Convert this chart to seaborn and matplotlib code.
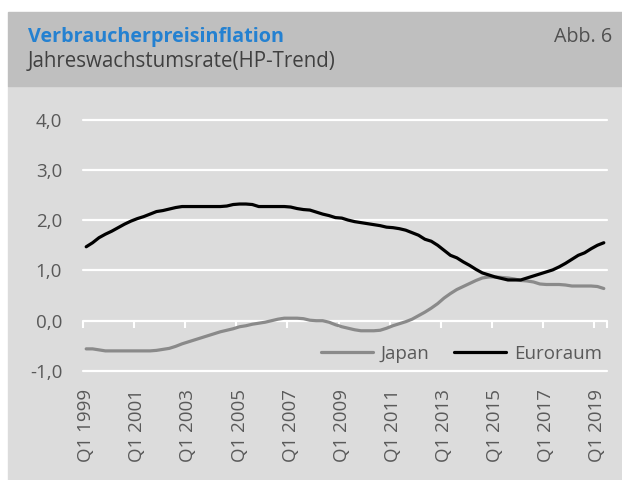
import pandas as pd
import numpy as np
from matplotlib import pyplot as plt
from matplotlib.patches import Rectangle
import seaborn as sns

# quarterly values Q1 1999 .. Q2 2019
quarters = [f"Q{q} {y}" for y in range(1999, 2020) for q in range(1, 5)][:82]

euroraum = [1.47, 1.55, 1.65, 1.72, 1.78, 1.85, 1.92, 1.98, 2.03, 2.07,
            2.12, 2.17, 2.19, 2.22, 2.25, 2.27, 2.27, 2.27, 2.27, 2.27,
            2.27, 2.27, 2.28, 2.31, 2.32, 2.32, 2.31, 2.27, 2.27, 2.27,
            2.27, 2.27, 2.26, 2.23, 2.21, 2.20, 2.16, 2.12, 2.09, 2.05,
            2.04, 2.00, 1.97, 1.95, 1.93, 1.91, 1.89, 1.86, 1.85, 1.83,
            1.80, 1.75, 1.70, 1.62, 1.58, 1.50, 1.40, 1.30, 1.25, 1.17,
            1.10, 1.02, 0.95, 0.91, 0.87, 0.84, 0.81, 0.81, 0.81, 0.85,
            0.89, 0.93, 0.97, 1.01, 1.07, 1.14, 1.22, 1.30, 1.35, 1.43,
            1.50, 1.55]

japan = [-0.56, -0.56, -0.58, -0.60, -0.60, -0.60, -0.60, -0.60, -0.60, -0.60,
         -0.60, -0.59, -0.57, -0.55, -0.51, -0.46, -0.42, -0.38, -0.34, -0.30,
         -0.26, -0.22, -0.19, -0.16, -0.12, -0.10, -0.07, -0.05, -0.03, 0.00,
         0.03, 0.05, 0.05, 0.05, 0.04, 0.01, 0.00, 0.00, -0.03, -0.08,
         -0.12, -0.15, -0.18, -0.20, -0.20, -0.20, -0.19, -0.15, -0.10, -0.06,
         -0.02, 0.03, 0.10, 0.17, 0.25, 0.34, 0.45, 0.54, 0.62, 0.68,
         0.74, 0.80, 0.85, 0.87, 0.87, 0.86, 0.85, 0.83, 0.80, 0.79,
         0.77, 0.73, 0.72, 0.72, 0.72, 0.71, 0.69, 0.69, 0.69, 0.69,
         0.68, 0.64]

y_ticks = [-1, 0, 1, 2, 3, 4]
label_every = 8

df = pd.DataFrame({"Quartal": quarters, "Japan": japan, "Euroraum": euroraum})
long = df.melt(id_vars="Quartal", var_name="Region", value_name="Wert")
long["pos"] = long["Quartal"].map({q: i for i, q in enumerate(quarters)})

sns.set_theme(style="white")
plt.rcParams["font.family"] = ["Open Sans", "DejaVu Sans"]

fig = plt.figure(figsize=(6.22, 4.8), dpi=100)
fig.patch.set_facecolor("white")
# panels behind everything
fig.patches.append(Rectangle((8 / 622, 0), 1, 394 / 480, transform=fig.transFigure,
                             color="#dcdcdc", zorder=-10))
fig.patches.append(Rectangle((8 / 622, 394 / 480), 1, 74 / 480, transform=fig.transFigure,
                             color="#bfbfbf", zorder=-10))

fig.text(28 / 622, 1 - 42 / 480, "Verbraucherpreisinflation", color="#2481d1",
         fontsize=14.2, fontweight="bold", va="baseline", ha="left")
fig.text(28 / 622, 1 - 67 / 480, "Jahreswachstumsrate(HP-Trend)", color="#404040",
         fontsize=14.8, va="baseline", ha="left")
fig.text(612 / 622, 1 - 42 / 480, "Abb. 6", color="#505050",
         fontsize=14.2, va="baseline", ha="right")

# 50.3 px per unit, range -1 .. 4.1
ax = fig.add_axes([83 / 622, 109 / 480, 524 / 622, 256.5 / 480])
ax.set_facecolor("none")

sns.lineplot(data=long, x="pos", y="Wert", hue="Region",
             palette={"Japan": "#8a8a8a", "Euroraum": "black"},
             linewidth=2.3, ax=ax)

ax.set_ylim(-1, 4.1)
ax.set_xlim(-0.5, len(quarters) - 0.5)
ax.set_yticks(y_ticks)
ax.set_yticklabels([f"{v:.1f}".replace(".", ",") for v in y_ticks])
ax.yaxis.grid(True, color="white", linewidth=1.6)
ax.set_axisbelow(True)
for gl in ax.yaxis.get_gridlines():
    gl.set_clip_on(False)
for s in ax.spines.values():
    s.set_visible(False)

pos = list(range(0, len(quarters), label_every))
ax.set_xticks(pos)
ax.set_xticklabels([quarters[p] for p in pos], rotation=90, va="top", ha="center")
ax.tick_params(axis="x", length=0, pad=13, labelsize=13.5, labelcolor="#595959")
ax.tick_params(axis="y", length=0, pad=15, labelsize=13.5, labelcolor="#595959")
ax.set_xlabel("")
ax.set_ylabel("")

# small white tick marks on the zero line
sec = ax.secondary_xaxis(1 / 5.1)
sec.set_xticks([p - 0.5 for p in pos] + [len(quarters) - 0.5])
sec.set_xticklabels([])
sec.tick_params(axis="x", direction="out", length=5, width=1.5, color="white")
sec.spines["bottom"].set_visible(False)

leg = ax.legend(loc="center right", bbox_to_anchor=(0.99, 0.067), ncol=2, frameon=False,
                handlelength=2.8, handletextpad=0.4, columnspacing=1.3,
                borderaxespad=0, borderpad=0, fontsize=13.5)
for t in leg.get_texts():
    t.set_color("#595959")

fig.savefig("out.png", dpi=100, facecolor=fig.get_facecolor())
